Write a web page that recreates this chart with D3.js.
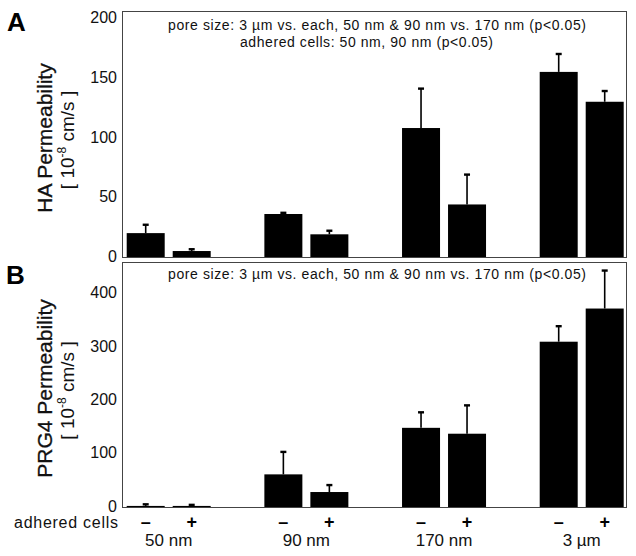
<!DOCTYPE html>
<html>
<head>
<meta charset="utf-8">
<script src="https://cdn.jsdelivr.net/npm/d3@7"></script>
<style>
  html, body { margin: 0; padding: 0; background: #fff; }
  svg { display: block; font-family: Arial, "Liberation Sans", sans-serif; }
</style>
</head>
<body>
<svg id="chart" width="636" height="556"></svg>
<script>
// ---- data ----
const groups = ["50 nm", "90 nm", "170 nm", "3 µm"];
const cells = ["−", "+"];
// HA permeability (10^-8 cm/s): [minus, plus] per group
const haMean = [[20, 5], [36, 19], [108, 44], [155, 130]];
const haErr  = [[7, 1.5], [1, 3], [33, 25], [15, 9]];
// PRG4 permeability
const prgMean = [[2, 2], [61, 28], [148, 137], [309, 371]];
const prgErr  = [[3, 2], [42, 13], [29, 53], [29, 71]];
const haTicks = [0, 50, 100, 150, 200];
const prgTicks = [0, 100, 200, 300, 400];

const svg = d3.select("#chart");

const x = d3.scalePoint().domain(groups).range([168.7, 581.7]);
const xs = d3.scaleBand().domain(cells).range([-42, 42]).paddingInner(8 / 46);

const frameL = 122, frameR = 627;

function panel(opts) {
  const { y, mean, err, ticks, top, bottom, title, label, notes } = opts;
  const g = svg.append("g");
  // frame
  g.append("rect")
    .attr("x", frameL + 0.5).attr("y", top + 0.5)
    .attr("width", frameR - frameL - 1).attr("height", bottom - top)
    .attr("fill", "none").attr("stroke", "#444").attr("stroke-width", 1);

  const data = [];
  groups.forEach((grp, i) => cells.forEach((c, j) => data.push({ grp, c, v: mean[i][j], e: err[i][j] })));

  g.selectAll("rect.bar").data(data).enter().append("rect")
    .attr("class", "bar")
    .attr("x", d => x(d.grp) + xs(d.c))
    .attr("width", xs.bandwidth())
    .attr("y", d => y(d.v))
    .attr("height", d => y(0) - y(d.v))
    .attr("fill", "#000");

  // error bars
  g.selectAll("line.err").data(data).enter().append("line")
    .attr("x1", d => x(d.grp) + xs(d.c) + xs.bandwidth() / 2)
    .attr("x2", d => x(d.grp) + xs(d.c) + xs.bandwidth() / 2)
    .attr("y1", d => y(d.v)).attr("y2", d => y(d.v + d.e))
    .attr("stroke", "#000").attr("stroke-width", 1.6);
  g.selectAll("line.cap").data(data).enter().append("line")
    .attr("x1", d => x(d.grp) + xs(d.c) + xs.bandwidth() / 2 - 3)
    .attr("x2", d => x(d.grp) + xs(d.c) + xs.bandwidth() / 2 + 3)
    .attr("y1", d => y(d.v + d.e)).attr("y2", d => y(d.v + d.e))
    .attr("stroke", "#000").attr("stroke-width", 2.4);

  // y axis labels
  const ax = g.append("g").attr("transform", `translate(${frameL},0)`)
    .call(d3.axisLeft(y).tickValues(ticks).tickSize(0).tickPadding(5));
  ax.select(".domain").remove();
  ax.selectAll("text").attr("font-size", 16).attr("dy", "0.28em")
    .attr("font-family", "Arial, 'Liberation Sans', sans-serif").attr("fill", "#111");

  // y title
  const cy = (top + bottom) / 2 + 4;
  g.append("text").attr("transform", `translate(52,${cy}) rotate(-90)`)
    .attr("text-anchor", "middle").attr("font-size", 21).attr("fill", "#111")
    .attr("stroke", "#111").attr("stroke-width", 0.3)
    .text(title);
  const t2 = g.append("text").attr("transform", `translate(74,${cy + 2}) rotate(-90)`)
    .attr("text-anchor", "middle").attr("font-size", 19).attr("fill", "#111");
  t2.append("tspan").text("[ 10");
  t2.append("tspan").attr("font-size", 12).attr("dy", -8).text("-8");
  t2.append("tspan").attr("dy", 8).text(" cm/s ]");

  // panel letter
  g.append("text").attr("x", label.x).attr("y", label.y)
    .attr("font-size", 26).attr("font-weight", "bold").attr("fill", "#000").text(label.t);

  notes.forEach(n => {
    g.append("text").attr("x", n.x).attr("y", n.y).attr("font-size", 14)
      .attr("textLength", n.w).attr("lengthAdjust", "spacing")
      .attr("fill", "#111").text(n.t);
  });
}

const yA = d3.scaleLinear().domain([0, 206]).range([257, 11]);
panel({
  y: yA, mean: haMean, err: haErr, ticks: haTicks, top: 11, bottom: 257,
  title: "HA Permeability", label: { t: "A", x: 7, y: 31 },
  notes: [
    { t: "pore size: 3 µm vs. each, 50 nm & 90 nm vs. 170 nm (p<0.05)", x: 168, y: 30, w: 418 },
    { t: "adhered cells: 50 nm, 90 nm (p<0.05)", x: 240, y: 47, w: 253 }
  ]
});

const yB = d3.scaleLinear().domain([0, 458]).range([507, 262]);
panel({
  y: yB, mean: prgMean, err: prgErr, ticks: prgTicks, top: 262, bottom: 507,
  title: "PRG4 Permeability", label: { t: "B", x: 6, y: 284 },
  notes: [
    { t: "pore size: 3 µm vs. each, 50 nm & 90 nm vs. 170 nm (p<0.05)", x: 168, y: 279, w: 418 }
  ]
});

// bottom labels
svg.append("text").attr("x", 118).attr("y", 528).attr("text-anchor", "end")
  .attr("font-size", 16).attr("textLength", 104).attr("lengthAdjust", "spacing")
  .attr("fill", "#111").text("adhered cells");
const cellData = [];
groups.forEach(grp => cells.forEach(c => cellData.push({ grp, c })));
svg.selectAll("text.cell").data(cellData).enter().append("text")
  .attr("x", d => x(d.grp) + xs(d.c) + xs.bandwidth() / 2)
  .attr("y", 528).attr("text-anchor", "middle")
  .attr("font-size", 18).attr("font-weight", "bold").attr("fill", "#000")
  .text(d => d.c === "−" ? "–" : "+");
svg.selectAll("text.grp").data(groups).enter().append("text")
  .attr("x", d => x(d)).attr("y", 546).attr("text-anchor", "middle")
  .attr("font-size", 17).attr("fill", "#111").text(d => d);
</script>
</body>
</html>
